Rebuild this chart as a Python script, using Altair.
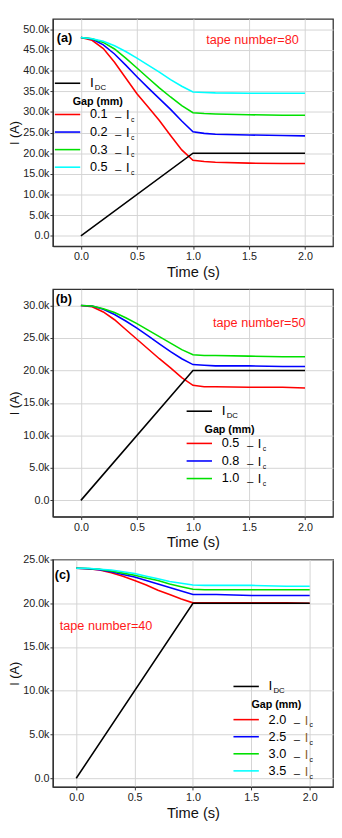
import altair as alt
import pandas as pd

# ---------------- data (kA) ----------------
T = [0, 0.1, 0.2, 0.3, 0.4, 0.5, 0.6, 0.7, 0.8, 0.9, 1.0, 1.1, 1.2, 1.5, 1.8, 2.0]
DC_T = [0, 1.0, 2.0]
DC_I = [0, 20.0, 20.0]

A_GAPS = ["0.1", "0.2", "0.3", "0.5"]
A_RED = [48.0, 47.3, 45.3, 42.0, 38.2, 34.4, 31.2, 27.9, 24.3, 20.8, 18.3, 18.0, 17.8, 17.6, 17.5, 17.5]
A_BLUE = [48.0, 47.6, 46.2, 44.0, 41.3, 38.5, 35.8, 33.2, 30.6, 27.8, 25.2, 24.8, 24.6, 24.4, 24.3, 24.2]
A_GREEN = [48.0, 47.7, 46.8, 45.2, 43.0, 40.6, 38.2, 35.8, 33.6, 31.5, 29.8, 29.6, 29.5, 29.3, 29.2, 29.2]
A_CYAN = [48.0, 47.7, 47.1, 46.0, 44.6, 43.0, 41.3, 39.6, 37.8, 36.2, 34.8, 34.7, 34.6, 34.5, 34.5, 34.5]

B_GAPS = ["0.5", "0.8", "1.0"]
B_RED = [30.0, 29.8, 29.0, 27.8, 26.3, 24.8, 23.3, 21.8, 20.4, 18.9, 17.7, 17.5, 17.5, 17.4, 17.4, 17.3]
B_BLUE = [30.0, 29.9, 29.4, 28.6, 27.6, 26.5, 25.3, 24.1, 22.9, 21.8, 20.9, 20.8, 20.7, 20.7, 20.6, 20.6]
B_GREEN = [30.0, 29.9, 29.5, 28.9, 28.1, 27.2, 26.2, 25.2, 24.2, 23.2, 22.4, 22.3, 22.3, 22.2, 22.1, 22.1]

C_GAPS = ["2.0", "2.5", "3.0", "3.5"]
C_RED = [24.0, 23.95, 23.8, 23.5, 23.1, 22.6, 22.1, 21.5, 21.0, 20.5, 20.05, 20.05, 20.05, 20.05, 20.05, 20.0]
C_BLUE = [24.0, 23.95, 23.85, 23.6, 23.3, 23.0, 22.6, 22.2, 21.8, 21.4, 21.0, 21.0, 21.0, 20.9, 20.9, 20.9]
C_GREEN = [24.0, 23.97, 23.9, 23.7, 23.45, 23.2, 22.9, 22.6, 22.2, 21.9, 21.6, 21.55, 21.55, 21.55, 21.55, 21.55]
C_CYAN = [24.0, 24.0, 23.9, 23.8, 23.6, 23.4, 23.1, 22.8, 22.5, 22.3, 22.1, 22.05, 22.05, 22.05, 21.95, 21.95]

COLORS = ["#ff0000", "#0000ff", "#00e000", "#00ffff"]
X_TICKS = [0, 0.5, 1.0, 1.5, 2.0]
FONT = "Liberation Sans"

W, H = 287, 233
dummy = pd.DataFrame({"d": [0]})


def txt(s, x, y, size=12, color="black", bold=False, align="left"):
    return alt.Chart(dummy).mark_text(
        text=s, fontSize=size, color=color, font=FONT,
        fontWeight="bold" if bold else "normal", align=align, baseline="middle"
    ).encode(x=alt.value(x), y=alt.value(y))


def seg(x0, x1, y, color):
    return alt.Chart(dummy).mark_rule(color=color, strokeWidth=1.6).encode(
        x=alt.value(x0), x2=alt.value(x1), y=alt.value(y))


def panel(letter, letter_xy, gaps, series, ydom, yticks, xdom, tape, tape_xy,
          leg, ic_color="black"):
    rows = []
    for g, vals in zip(gaps, series):
        for t, v in zip(T, vals):
            rows.append({"t": t, "I": v, "gap": g})
    df = pd.DataFrame(rows)
    dc = pd.DataFrame({"t": DC_T, "I": DC_I})

    xenc = alt.X("t:Q", scale=alt.Scale(domain=xdom, nice=False, zero=False),
                 axis=alt.Axis(values=X_TICKS, format=".1f", title="Time (s)", labelOverlap=False))
    yenc = alt.Y("I:Q", scale=alt.Scale(domain=ydom, nice=False, zero=False),
                 axis=alt.Axis(values=yticks, title="I (A)", labelOverlap=False,
                               labelExpr="datum.value == 0 ? '0.0' : format(datum.value, '.1f') + 'k'"))

    lines = alt.Chart(df).mark_line(strokeWidth=1.6).encode(
        x=xenc, y=yenc,
        color=alt.Color("gap:N", scale=alt.Scale(domain=gaps, range=COLORS[:len(gaps)]), legend=None),
        detail="gap:N",
    )
    dcline = alt.Chart(dc).mark_line(strokeWidth=1.6, color="black").encode(x=xenc, y=yenc)

    layers = [lines, dcline]
    layers.append(txt(letter, letter_xy[0], letter_xy[1], size=13, bold=True))
    layers.append(txt(tape, tape_xy[0], tape_xy[1], size=13, color="#ff1a1a"))

    lx, ly_dc, ly_gap, ly0, dy = leg
    # I_DC entry
    layers.append(seg(lx, lx + 26, ly_dc, "black"))
    layers.append(txt("I", lx + 36, ly_dc, size=14))
    layers.append(txt("DC", lx + 41, ly_dc + 5, size=8))
    layers.append(txt("Gap (mm)", lx + 44, ly_gap, size=11, bold=True, align="center"))
    for i, (g, c) in enumerate(zip(gaps, COLORS)):
        yy = ly0 + i * dy
        layers.append(seg(lx, lx + 26, yy, c))
        layers.append(txt(g, lx + 36, yy, size=13))
        layers.append(txt("_", lx + 62, yy - 1, size=11))
        layers.append(txt("I", lx + 73, yy + 1, size=13, color=ic_color))
        layers.append(txt("c", lx + 78, yy + 6, size=7))

    return alt.layer(*layers).properties(width=W, height=H)


pa = panel("(a)", (4, 20), A_GAPS, [A_RED, A_BLUE, A_GREEN, A_CYAN],
           [-2.5, 52.5], [0, 5, 10, 15, 20, 25, 30, 35, 40, 45, 50], [-0.25, 2.25],
           "tape number=80", (157, 22), (2, 66, 85, 98, 18))
pb = panel("(b)", (3, 10), B_GAPS, [B_RED, B_BLUE, B_GREEN],
           [-2.5, 32.5], [0, 5, 10, 15, 20, 25, 30], [-0.25, 2.25],
           "tape number=50", (164, 35), (137, 125, 144, 158, 18))
pc = panel("(c)", (2, 16), C_GAPS, [C_RED, C_BLUE, C_GREEN, C_CYAN],
           [-1, 25], [0, 5, 10, 15, 20, 25], [-0.2, 2.2],
           "tape number=40", (7, 68), (185, 130, 149, 164, 17.5), ic_color="#8b5a2b")

chart = alt.vconcat(pa, pb, pc, spacing=44, bounds="flush").resolve_scale(
    color="independent", x="independent", y="independent"
).properties(
    padding={"left": 0, "top": 0, "right": 0, "bottom": 0}
).configure(font=FONT).configure_view(
    stroke="#333333", strokeWidth=1.3
).configure_axis(
    grid=True, gridColor="#d4d4d4", gridWidth=1,
    domainColor="#333333", domainWidth=1.3,
    tickColor="#333333", tickSize=3,
    labelFont=FONT, labelFontSize=11, labelColor="#222222", labelPadding=1,
    titleFont=FONT, titleFontWeight="normal", titleColor="#111111",
).configure_axisY(
    titleFontSize=13, titlePadding=1,
).configure_axisX(
    titleFontSize=15, titlePadding=3, labelPadding=2,
)

chart.save("out.html", embed_options={"renderer": "svg", "actions": False})
